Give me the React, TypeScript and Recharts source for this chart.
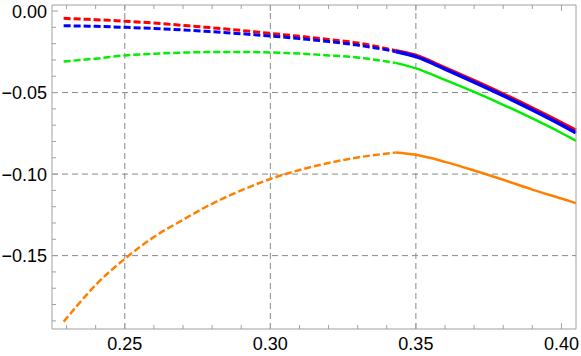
import { LineChart, Line, XAxis, YAxis, ReferenceLine } from 'recharts'

// x positions sampled along the curves; 0.343 is where dashed turns solid
const xValues = [
  0.229, 0.2374, 0.24, 0.25, 0.26, 0.27, 0.2775, 0.28, 0.29, 0.3, 0.31, 0.32, 0.33, 0.343,
  0.35, 0.36, 0.37, 0.38, 0.39, 0.4, 0.405,
]
const KINK = 0.343

const redValues = [
  -0.0045, -0.0051, -0.0053, -0.0062, -0.0074, -0.0088, -0.0099, -0.0103, -0.0119, -0.0137,
  -0.0155, -0.0174, -0.0196, -0.0243, -0.0272, -0.0348, -0.0427, -0.0509, -0.0595, -0.0685,
  -0.0732,
]
const blueValues = [
  -0.009, -0.0093, -0.0094, -0.01, -0.0107, -0.0116, -0.0124, -0.0127, -0.0139, -0.0153,
  -0.0169, -0.0187, -0.0209, -0.0248, -0.028, -0.0356, -0.0436, -0.0519, -0.0606, -0.0698,
  -0.0747,
]
const greenValues = [
  -0.031, -0.0296, -0.0292, -0.0272, -0.0262, -0.0255, -0.0252, -0.0251, -0.0251, -0.0254,
  -0.0261, -0.0272, -0.0285, -0.0318, -0.0352, -0.0422, -0.0496, -0.0575, -0.0659, -0.0748,
  -0.0795,
]
const orangeValues = [
  -0.1905, -0.173, -0.168, -0.152, -0.1386, -0.128, -0.1205, -0.1182, -0.11, -0.103,
  -0.0975, -0.0932, -0.0898, -0.0868, -0.0882, -0.0925, -0.0978, -0.1035, -0.1095, -0.115,
  -0.1178,
]

const xTicks = [
  0.23, 0.24, 0.25, 0.26, 0.27, 0.28, 0.29, 0.3, 0.31, 0.32, 0.33, 0.34, 0.35, 0.36, 0.37,
  0.38, 0.39, 0.4,
]
const yTicks = [
  -0.19, -0.18, -0.17, -0.16, -0.15, -0.14, -0.13, -0.12, -0.11, -0.1, -0.09, -0.08, -0.07,
  -0.06, -0.05, -0.04, -0.03, -0.02, -0.01, 0,
]
const xGrid = [0.25, 0.3, 0.35]
const yGrid = [-0.05, -0.1, -0.15]

const series = [
  { key: 'orange', values: orangeValues, color: '#ff8000', width: 2.5 },
  { key: 'green', values: greenValues, color: '#00ee00', width: 2.5 },
  { key: 'red', values: redValues, color: '#ff0000', width: 3 },
  { key: 'blue', values: blueValues, color: '#0000ff', width: 3 },
]

const data = xValues.map((x, i) => {
  const row: Record<string, number | null> = { x }
  series.forEach((s) => {
    row[s.key + 'Dash'] = x <= KINK ? s.values[i] : null
    row[s.key + 'Solid'] = x >= KINK ? s.values[i] : null
  })
  return row
})

const FRAME = '#a0a0a0'
const FONT = '"Liberation Sans", Arial, sans-serif'

const isMajor = (v: number) => Math.abs(v * 20 - Math.round(v * 20)) < 1e-6
const fmt = (v: number) => (v < 0 ? '\u2212' : '') + Math.abs(v).toFixed(2)

// bottom axis sits at y=329, top frame at y=5
function makeXTick(bottom: boolean) {
  return (props: any) => {
    const { x, payload } = props
    const major = isMajor(payload.value)
    const len = major ? 6 : 4
    const y0 = bottom ? 329 : 5
    const dir = bottom ? -1 : 1
    return (
      <g>
        <line x1={x} x2={x} y1={y0} y2={y0 + dir * len} stroke={FRAME} />
        {bottom && major && (
          <text x={x} y={y0 + 21} textAnchor="middle" fontSize={18} fontFamily={FONT} fill="#000">
            {fmt(payload.value)}
          </text>
        )}
      </g>
    )
  }
}

// left frame at x=52, right frame at x=576
function makeYTick(left: boolean) {
  return (props: any) => {
    const { y, payload } = props
    const major = isMajor(payload.value)
    const len = major ? 6 : 4
    const x0 = left ? 52 : 576
    const dir = left ? 1 : -1
    return (
      <g>
        <line x1={x0} x2={x0 + dir * len} y1={y} y2={y} stroke={FRAME} />
        {left && major && (
          <text x={x0 - 5} y={y + 6.5} textAnchor="end" fontSize={18} fontFamily={FONT} fill="#000">
            {fmt(payload.value)}
          </text>
        )}
      </g>
    )
  }
}

export default function App() {
  return (
    <div style={{ position: 'absolute', left: 0, top: 0, background: '#fff' }}>
      <LineChart
        width={581}
        height={356}
        data={data}
        margin={{ top: 0, right: 0, bottom: 0, left: 0 }}
      >
        <XAxis
          dataKey="x"
          type="number"
          domain={[0.225, 0.405]}
          ticks={xTicks}
          height={27}
          tickLine={false}
          stroke={FRAME}
          tick={makeXTick(true)}
          interval={0}
        />
        <XAxis
          xAxisId="top"
          orientation="top"
          dataKey="x"
          type="number"
          domain={[0.225, 0.405]}
          ticks={xTicks}
          height={5}
          tickLine={false}
          stroke={FRAME}
          tick={makeXTick(false)}
          interval={0}
        />
        <YAxis
          type="number"
          domain={[-0.195, 0.0037]}
          ticks={yTicks}
          width={52}
          tickLine={false}
          stroke={FRAME}
          tick={makeYTick(true)}
          interval={0}
        />
        <YAxis
          yAxisId="right"
          orientation="right"
          type="number"
          domain={[-0.195, 0.0037]}
          ticks={yTicks}
          width={5}
          tickLine={false}
          stroke={FRAME}
          tick={makeYTick(false)}
          interval={0}
        />
        {xGrid.map((v) => (
          <ReferenceLine key={'gx' + v} x={v} stroke="#888" strokeDasharray="6 4" />
        ))}
        {yGrid.map((v) => (
          <ReferenceLine key={'gy' + v} y={v} stroke="#888" strokeDasharray="6 4" />
        ))}
        {series.map((s) => (
          <Line
            key={s.key + 'Dash'}
            dataKey={s.key + 'Dash'}
            type="monotone"
            stroke={s.color}
            strokeWidth={s.width}
            strokeDasharray="7 3"
            dot={false}
            connectNulls={false}
            isAnimationActive={false}
          />
        ))}
        {series.map((s) => (
          <Line
            key={s.key + 'Solid'}
            dataKey={s.key + 'Solid'}
            type="monotone"
            stroke={s.color}
            strokeWidth={s.key === 'red' || s.key === 'blue' ? 3.5 : 2.5}
            dot={false}
            connectNulls={false}
            isAnimationActive={false}
          />
        ))}
      </LineChart>
    </div>
  )
}
